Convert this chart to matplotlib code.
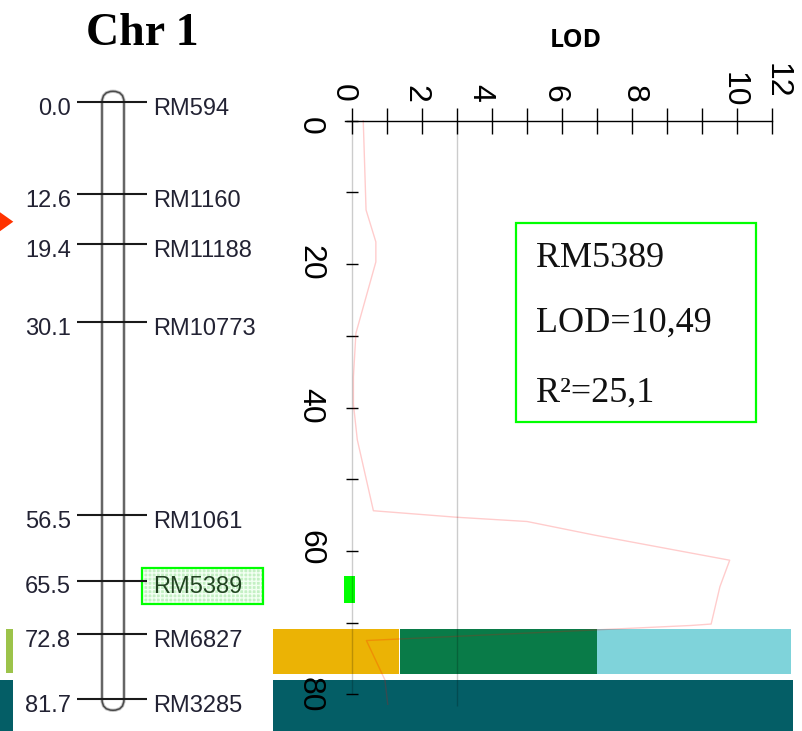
import matplotlib
matplotlib.use("Agg")
import matplotlib.pyplot as plt
from matplotlib.patches import Rectangle, FancyBboxPatch, Polygon
from matplotlib.transforms import ScaledTranslation

# ---------------- data ----------------
marker_names = ["RM594", "RM1160", "RM11188", "RM10773", "RM1061", "RM5389", "RM6827", "RM3285"]
marker_pos = [0.0, 12.6, 19.4, 30.1, 56.5, 65.5, 72.8, 81.7]
highlight_marker = "RM5389"

curve_cm = [0.0, 12.45, 16.9, 19.7, 29.65, 35.7, 39.55, 44.5, 54.4, 55.3, 55.9, 57.8,
            61.3, 65.0, 70.2, 70.4, 72.5, 78.0, 81.4]
curve_lod = [0.33, 0.41, 0.69, 0.69, 0.12, 0.05, 0.05, 0.16, 0.62, 2.98, 5.01, 6.94,
             10.8, 10.52, 10.27, 9.7, 0.42, 0.95, 1.03]
lod_threshold = 3.0
qtl_interval = (63.5, 67.3)

lod_ticks = list(range(0, 13))
lod_tick_labels = ["0", "2", "4", "6", "8", "10", "12"]
cm_ticks = list(range(0, 81, 10))
cm_tick_labels = ["0", "20", "40", "60", "80"]

info_lines = ["RM5389", "LOD=10,49", "R²=25,1"]
chrom_title = "Chr 1"
lod_title = "LOD"

# ---------------- layout ----------------
W, H = 802, 731
fig = plt.figure(figsize=(W / 100, H / 100), dpi=100)
fig.patch.set_facecolor("white")

# pixel background axes (decorations)
bg = fig.add_axes([0, 0, 1, 1], zorder=0)
bg.set_xlim(0, W)
bg.set_ylim(H, 0)
bg.axis("off")

deco = [
    (273, 399, 629, 674, "#ebb305"),
    (400, 597, 629, 674, "#097b48"),
    (597, 791, 629, 674, "#7fd3da"),
    (273, 793, 680, 731, "#045e66"),
    (6, 12.7, 629, 673, "#9cc34a"),
    (0, 12.7, 680, 731, "#045e66"),
]
for x0, x1, y0, y1, c in deco:
    bg.add_patch(Rectangle((x0, y0), x1 - x0, y1 - y0, facecolor=c, edgecolor="none"))
bg.add_patch(Polygon([(-6, 208), (-6, 235.5), (13.3, 221.7)], closed=True,
                     facecolor="#ff3300", edgecolor="none"))

# info box
bg.add_patch(Rectangle((515.7, 222.7), 240, 199.3, facecolor="none", edgecolor="#00ff00", lw=1.6))
for txt, yb in zip(info_lines, [266.7, 331.7, 401.7]):
    bg.text(536, yb, txt, fontsize=26, family="Liberation Serif", va="baseline", ha="left",
            color="#111111")

fig.text(142.5 / W, 1 - 45 / H, chrom_title, fontsize=33, family="Liberation Serif",
         fontweight="bold", ha="center", va="baseline")
fig.text(576 / W, 1 - 46.7 / H, lod_title, fontsize=18, family="Open Sans",
         fontweight="bold", ha="center", va="baseline")

# ---------------- chromosome axes ----------------
px_per_cm_chr = 7.307
y0_chr = 102.3
ax_chr = fig.add_axes([0, 0, 1, 1], zorder=1)
ax_chr.set_xlim(0, W)
ax_chr.set_ylim((H - y0_chr) / px_per_cm_chr, -y0_chr / px_per_cm_chr)
ax_chr.axis("off")
ax_chr.patch.set_alpha(0)

r = 11
top = marker_pos[0] - r / px_per_cm_chr
bot = marker_pos[-1] + r / px_per_cm_chr
for lw, col in [(2.4, "#c4c4c4"), (1.1, "#4a4a4a")]:
    ax_chr.add_patch(FancyBboxPatch((102, top), 22, bot - top,
                                    boxstyle=f"round,pad=0,rounding_size={r}",
                                    mutation_aspect=1 / px_per_cm_chr,
                                    facecolor="none", edgecolor=col, lw=lw))

hi = marker_pos[marker_names.index(highlight_marker)]
ax_chr.add_patch(Rectangle((142, hi - 1.81), 121, 4.97, facecolor="#c4f0c4",
                           edgecolor="#f2fff2", lw=0, hatch="++++"))
ax_chr.add_patch(Rectangle((142, hi - 1.81), 121, 4.97, facecolor="none",
                           edgecolor="#00ff00", lw=1.6))

ax_chr.hlines(marker_pos, 77, 147, color="#1a1a1a", lw=1.5)
off = ScaledTranslation(0, -12.5 / 100, fig.dpi_scale_trans)
for name, pos in zip(marker_names, marker_pos):
    ax_chr.text(71, pos, f"{pos:.1f}", fontsize=17, family="Liberation Sans", ha="right",
                va="baseline", color="#222233", transform=ax_chr.transData + off)
    ax_chr.text(153, pos, name, fontsize=17, family="Liberation Sans", ha="left",
                va="baseline", color="#222233" if name != highlight_marker else "#224422",
                transform=ax_chr.transData + off)

# ---------------- LOD axes ----------------
px_per_lod = 35.0
x0_lod = 351.7
px_per_cm = 7.17
y0_lod = 120.7
ax = fig.add_axes([0, 0, 1, 1], zorder=2)
ax.patch.set_alpha(0)
ax.set_xlim(-x0_lod / px_per_lod, (W - x0_lod) / px_per_lod)
ax.set_ylim((H - y0_lod) / px_per_cm, -y0_lod / px_per_cm)
for s in ["bottom", "right"]:
    ax.spines[s].set_visible(False)
ax.spines["top"].set_position(("data", 0))
ax.spines["top"].set_bounds(-0.19, 12)
ax.spines["top"].set_linewidth(1.0)
ax.spines["left"].set_position(("data", 0))
ax.spines["left"].set_bounds(0, 80)
ax.spines["left"].set_color("black")
ax.spines["left"].set_alpha(0.2)
ax.spines["left"].set_linewidth(1.0)
ax.xaxis.set_ticks_position("top")
ax.set_xticks(lod_ticks)
ax.set_xticklabels([])
ax.tick_params(axis="x", direction="inout", length=19, width=1.0, color="black")
ax.yaxis.set_ticks_position("left")
ax.set_yticks(cm_ticks)
ax.set_yticklabels([])
ax.tick_params(axis="y", direction="inout", length=8, width=1.0, color="black")

# tick labels (rotated as in the reference)
xlab_pos = [(-0.25, -3.86), (1.81, -3.72), (3.67, -3.93), (5.78, -3.7), (8.05, -3.7),
            (10.9, -4.28), (12.14, -5.52)]
for lab, (xp, yp) in zip(lod_tick_labels, xlab_pos):
    ax.text(xp, yp, lab, rotation=-90, fontsize=23, family="Liberation Sans",
            ha="center", va="center")
ylab_pos = [0.7, 19.85, 39.8, 59.5, 80.1]
for lab, yp in zip(cm_tick_labels, ylab_pos):
    ax.text(-1.19, yp, lab, rotation=-90, fontsize=23, family="Liberation Sans",
            ha="center", va="center")

ax.vlines(lod_threshold, 0, marker_pos[-1], color="black", alpha=0.2, lw=1.0)
ax.fill_betweenx(qtl_interval, -0.22, 0.09, color="#00ff00", lw=0)
ax.plot(curve_lod, curve_cm, color="red", alpha=0.2, lw=1.0)

fig.savefig("out.png", dpi=100, facecolor="white")
